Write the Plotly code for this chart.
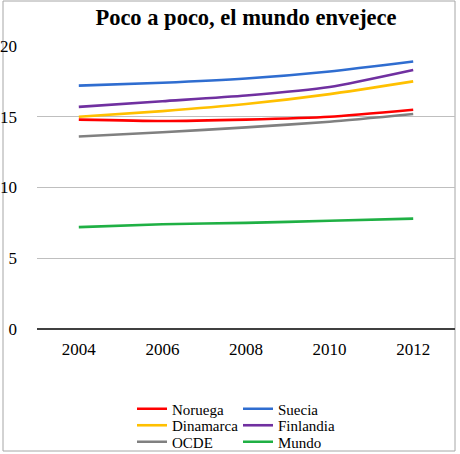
import plotly.graph_objects as go

years = ["2004", "2006", "2008", "2010", "2012"]
noruega = [14.8, 14.7, 14.8, 15.0, 15.5]
suecia = [17.2, 17.4, 17.7, 18.2, 18.9]
dinamarca = [15.0, 15.4, 15.9, 16.6, 17.5]
finlandia = [15.7, 16.1, 16.5, 17.1, 18.3]
ocde = [13.6, 13.9, 14.25, 14.65, 15.2]
mundo = [7.2, 7.4, 7.5, 7.65, 7.8]
y_ticks = [0, 5, 10, 15, 20]

FONT = "Liberation Serif"

series = [
    ("Noruega", noruega, "#ff0000", "legend"),
    ("Suecia", suecia, "#2f6dd0", "legend"),
    ("Dinamarca", dinamarca, "#ffc000", "legend2"),
    ("Finlandia", finlandia, "#7030a0", "legend2"),
    ("OCDE", ocde, "#808080", "legend3"),
    ("Mundo", mundo, "#1fb044", "legend3"),
]

fig = go.Figure()
for name, vals, color, leg in series:
    fig.add_trace(go.Scatter(
        x=years, y=vals, name=name, mode="lines",
        line=dict(color=color, width=2.6, shape="spline", smoothing=0.6),
        legend=leg,
    ))

L, R, T, B = 37, 5, 46, 125
W, H = 460, 454
pw, ph = W - L - R, H - T - B

def px(x):
    return (x - L) / pw

def py(y):
    return (H - B - y) / ph

def leg(ycen):
    return dict(x=px(132), y=py(ycen), xanchor="left", yanchor="middle",
                orientation="h", entrywidth=61, entrywidthmode="pixels",
                font=dict(family=FONT, size=15, color="black"),
                bgcolor="rgba(0,0,0,0)", borderwidth=0)

fig.update_layout(
    width=W, height=H,
    margin=dict(l=L, r=R, t=T, b=B, autoexpand=False),
    paper_bgcolor="white", plot_bgcolor="white",
    font=dict(family=FONT, size=16, color="black"),
    title=dict(text="<b>Poco a poco, el mundo envejece</b>", x=0.5, xref="paper",
               y=1 - 17 / H, yref="container", yanchor="middle",
               font=dict(family=FONT, size=22.5, color="black")),
    xaxis=dict(type="category", range=[-0.5, 4.5], showgrid=False, showline=False,
               zeroline=False, ticks="", ticklabelstandoff=8,
               tickfont=dict(family=FONT, size=17, color="black")),
    yaxis=dict(range=[0, 20], tickvals=y_ticks, showgrid=True, gridcolor="#bfbfbf",
               gridwidth=1, zeroline=True, zerolinecolor="#404040", zerolinewidth=1.5,
               showline=False, ticks="", ticklabelstandoff=19,
               tickfont=dict(family=FONT, size=17, color="black")),
    legend=leg(409),
    legend2=leg(425.5),
    legend3=leg(442),
    shapes=[dict(type="rect", xref="paper", yref="paper",
                 x0=px(3), x1=px(455), y0=py(451), y1=py(1),
                 line=dict(color="#a6a6a6", width=1), layer="below")],
)

fig.write_html("out.html", config={"displayModeBar": False},
               post_script="document.body.style.margin='0';")
